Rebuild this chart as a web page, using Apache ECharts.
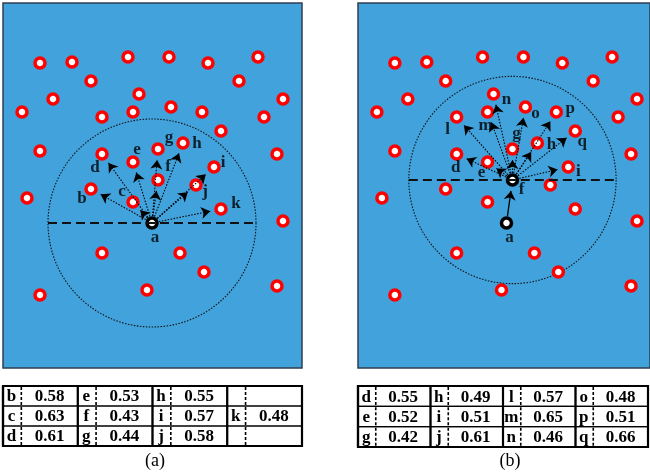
<!DOCTYPE html>
<html>
<head>
<meta charset="utf-8">
<script src="https://cdn.jsdelivr.net/npm/echarts@6/dist/echarts.min.js"></script>
<style>
  html, body { margin: 0; padding: 0; background: #fff; }
  #chart { width: 650px; height: 476px; }
</style>
</head>
<body>
<div id="chart"></div>
<script>
// Sensor sites in field units (x to the right, y downward), shared by both panels
const siteX = [40, 72, 128, 169, 208, 258, 91, 239, 139, 53, 283, 22, 102, 133, 171, 202, 264, 221, 40, 102,
               133, 158, 183, 158, 214, 196, 91, 133, 221, 277, 27, 283, 152, 102, 180, 204, 147, 40, 277];
const siteY = [63, 62, 57, 57, 63, 57, 81, 81, 94, 99, 99, 112, 117, 112, 107, 112, 117, 131, 151, 154,
               162, 149, 143, 180, 167, 185, 189, 202, 209, 154, 198, 221, 223, 253, 253, 272, 290, 295, 286];
const siteName = ['', '', '', '', '', '', '', '', 'n', '', '', '', 'l', 'm', 'o', 'p', '', 'q', '', 'd',
                  'e', 'g', 'h', 'f', 'i', 'j', 'b', 'c', 'k', '', '', '', 'a', '', '', '', '', '', ''];

// Panel (a): candidates searched from a
const centerA = 'a';
const targetsA = ['b', 'c', 'd', 'e', 'f', 'g', 'h', 'i', 'j', 'k'];
// Panel (b): a hops to f, then candidates searched from f
const hopB = ['a', 'f'];
const centerB = 'f';
const targetsB = ['d', 'e', 'g', 'h', 'i', 'l', 'm', 'n', 'o', 'p', 'q'];
const searchRadius = 104;

// Score tables, one column group per inner array
const tableALetters = [['b', 'c', 'd'], ['e', 'f', 'g'], ['h', 'i', 'j'], ['', 'k', '']];
const tableAValues  = [[0.58, 0.63, 0.61], [0.53, 0.43, 0.44], [0.55, 0.57, 0.58], [null, 0.48, null]];
const tableBLetters = [['d', 'e', 'g'], ['h', 'i', 'j'], ['l', 'm', 'n'], ['o', 'p', 'q']];
const tableBValues  = [[0.55, 0.52, 0.42], [0.49, 0.51, 0.61], [0.57, 0.65, 0.46], [0.48, 0.51, 0.66]];
const captions = ['(a)', '(b)'];

// ---- styling / layout ----
const FIELD_BLUE = '#41a2dc';
const SERIF = '"Liberation Serif", "Times New Roman", serif';
const labelOffsetA = { a: [3, 15], b: [-9, 10], c: [-11, -10], d: [-7, 14], e: [4, -12], f: [10, -13],
                       g: [11, -11], h: [14, 1], i: [9, -4], j: [9, 7], k: [15, -5] };
const labelOffsetB = { a: [3, 15], f: [9, 10], d: [-1, 14], e: [-6, 11], g: [4, -15], h: [14, 2], i: [10, 5],
                       l: [-9, 13], m: [-2, 14], n: [13, 6], o: [10, 7], p: [14, -3], q: [7, 11] };

function pos(name) {
  const i = siteName.indexOf(name);
  return [siteX[i], siteY[i]];
}
function arrowSeg(from, to, startGap, endGap) {
  const p = pos(from), q = pos(to);
  const dx = q[0] - p[0], dy = q[1] - p[1];
  const len = Math.hypot(dx, dy);
  const ux = dx / len, uy = dy / len;
  return { coords: [[p[0] + ux * startGap, p[1] + uy * startGap], [q[0] - ux * endGap, q[1] - uy * endGap]] };
}

function panelSeries(ax, centers, center, targets, offsets, hop) {
  const series = [];
  const c = pos(center);
  // search circle
  series.push({
    type: 'custom', xAxisIndex: ax, yAxisIndex: ax, z: 1, silent: true,
    data: [[c[0], c[1], searchRadius]],
    renderItem: function (params, api) {
      const p = api.coord([api.value(0), api.value(1)]);
      const r = api.size([api.value(2), 0])[0];
      return { type: 'circle', shape: { cx: p[0], cy: p[1], r: r },
               style: { fill: null, stroke: '#111', lineWidth: 1.1, lineDash: [1.5, 1.5] } };
    }
  });
  // ordinary sites
  const red = [], black = [];
  for (let i = 0; i < siteX.length; i++) {
    (centers.indexOf(siteName[i]) >= 0 ? black : red).push([siteX[i], siteY[i]]);
  }
  series.push({
    type: 'scatter', xAxisIndex: ax, yAxisIndex: ax, z: 2, silent: true,
    symbol: 'circle', symbolSize: 10, data: red,
    itemStyle: { color: '#fff', borderColor: '#ff0000', borderWidth: 3.5, opacity: 1 }
  });
  series.push({
    type: 'scatter', xAxisIndex: ax, yAxisIndex: ax, z: 2, silent: true,
    symbol: 'circle', symbolSize: 10, data: black,
    itemStyle: { color: '#fff', borderColor: '#000', borderWidth: 3.5, opacity: 1 }
  });
  // horizontal diameter through the search centre
  series.push({
    type: 'lines', coordinateSystem: 'cartesian2d', xAxisIndex: ax, yAxisIndex: ax, z: 3, silent: true,
    data: [{ coords: [[c[0] - searchRadius, c[1]], [c[0] + searchRadius, c[1]]] }],
    lineStyle: { color: '#111', width: 2, type: [9, 5], opacity: 1 }
  });
  // dotted arrows to candidates
  series.push({
    type: 'lines', coordinateSystem: 'cartesian2d', xAxisIndex: ax, yAxisIndex: ax, z: 4, silent: true,
    symbol: ['none', 'arrow'], symbolSize: 9,
    data: targets.map(t => arrowSeg(center, t, 4, 11)),
    lineStyle: { color: '#000', width: 1.1, type: [1.5, 1.5], opacity: 1 }
  });
  if (hop) {
    series.push({
      type: 'lines', coordinateSystem: 'cartesian2d', xAxisIndex: ax, yAxisIndex: ax, z: 4, silent: true,
      symbol: ['none', 'arrow'], symbolSize: 9,
      data: [arrowSeg(hop[0], hop[1], 7, 11)],
      lineStyle: { color: '#000', width: 1.3, type: 'solid', opacity: 1 }
    });
  }
  // letters
  series.push({
    type: 'scatter', xAxisIndex: ax, yAxisIndex: ax, z: 5, silent: true,
    symbol: 'circle', symbolSize: 1, itemStyle: { color: 'transparent' },
    data: Object.keys(offsets).map(n => ({ name: n, value: pos(n), label: { offset: offsets[n] } })),
    label: { show: true, position: 'inside', formatter: '{b}', color: '#000',
             fontFamily: SERIF, fontWeight: 'bold', fontSize: 17 }
  });
  return series;
}

function tableSeries(ax, letters, values) {
  const cells = [];
  letters.forEach((colArr, col) => colArr.forEach((ltr, row) => {
    cells.push({ col: col, row: row, letter: ltr, value: values[col][row] });
  }));
  return {
    type: 'custom', xAxisIndex: ax, yAxisIndex: ax, z: 3, silent: true,
    data: cells.map(c => [c.col, c.row]),
    renderItem: function (params, api) {
      const cell = cells[params.dataIndex];
      const tl = api.coord([api.value(0), api.value(1)]);
      const br = api.coord([api.value(0) + 1, api.value(1) + 1]);
      const w = br[0] - tl[0], h = br[1] - tl[1];
      const split = tl[0] + w * 0.245;
      const font = 'bold 17px ' + SERIF;
      return {
        type: 'group',
        children: [
          { type: 'rect', shape: { x: tl[0], y: tl[1], width: w, height: h },
            style: { fill: null, stroke: '#000', lineWidth: 1.2 } },
          { type: 'line', shape: { x1: tl[0], y1: tl[1], x2: tl[0], y2: br[1] },
            style: { stroke: '#000', lineWidth: 2.2 } },
          { type: 'line', shape: { x1: split, y1: tl[1] + 1, x2: split, y2: br[1] - 1 },
            style: { stroke: '#000', lineWidth: 1.6, lineDash: [3, 2] } },
          { type: 'text', x: tl[0] + w * 0.115, y: tl[1] + h / 2 + 1,
            style: { text: cell.letter, align: 'center', verticalAlign: 'middle', font: font, fill: '#000' } },
          { type: 'text', x: split + (br[0] - split) / 2, y: tl[1] + h / 2 + 1,
            style: { text: cell.value == null ? '' : cell.value.toFixed(2), align: 'center',
                     verticalAlign: 'middle', font: font, fill: '#000' } }
        ]
      };
    }
  };
}

const fieldGrid = { show: true, backgroundColor: FIELD_BLUE, borderColor: '#2f3f50', borderWidth: 1.5 };
const tableGrid = { show: true, backgroundColor: '#fff', borderColor: '#000', borderWidth: 2.2 };
const tabX = { type: 'value', min: 0, max: 4, show: false };
const tabY = { type: 'value', min: 0, max: 3, inverse: true, show: false };
const fieldY = { type: 'value', min: 3, max: 368, inverse: true, show: false };

const option = {
  animation: false,
  grid: [
    Object.assign({ left: 3, top: 3, width: 299, height: 365 }, fieldGrid),
    Object.assign({ left: 358, top: 3, width: 293, height: 365 }, fieldGrid),
    Object.assign({ left: 3, top: 386, width: 299, height: 60 }, tableGrid),
    Object.assign({ left: 358, top: 386, width: 290, height: 61 }, tableGrid)
  ],
  xAxis: [
    { gridIndex: 0, type: 'value', min: 3, max: 302, show: false },
    { gridIndex: 1, type: 'value', min: 3, max: 296, show: false },
    Object.assign({ gridIndex: 2 }, tabX),
    Object.assign({ gridIndex: 3 }, tabX)
  ],
  yAxis: [0, 1, 2, 3].map(i => Object.assign({ gridIndex: i }, i < 2 ? fieldY : tabY)),
  graphic: [
    { type: 'text', x: 155, y: 461, style: { text: captions[0], align: 'center', verticalAlign: 'middle',
      font: '18px ' + SERIF, fill: '#000' } },
    { type: 'text', x: 510, y: 461, style: { text: captions[1], align: 'center', verticalAlign: 'middle',
      font: '18px ' + SERIF, fill: '#000' } }
  ],
  series: [].concat(
    panelSeries(0, [centerA], centerA, targetsA, labelOffsetA, null),
    panelSeries(1, hopB, centerB, targetsB, labelOffsetB, hopB),
    [tableSeries(2, tableALetters, tableAValues), tableSeries(3, tableBLetters, tableBValues)]
  )
};

const chart = echarts.init(document.getElementById('chart'), null, { renderer: 'canvas' });
chart.setOption(option);
</script>
</body>
</html>
